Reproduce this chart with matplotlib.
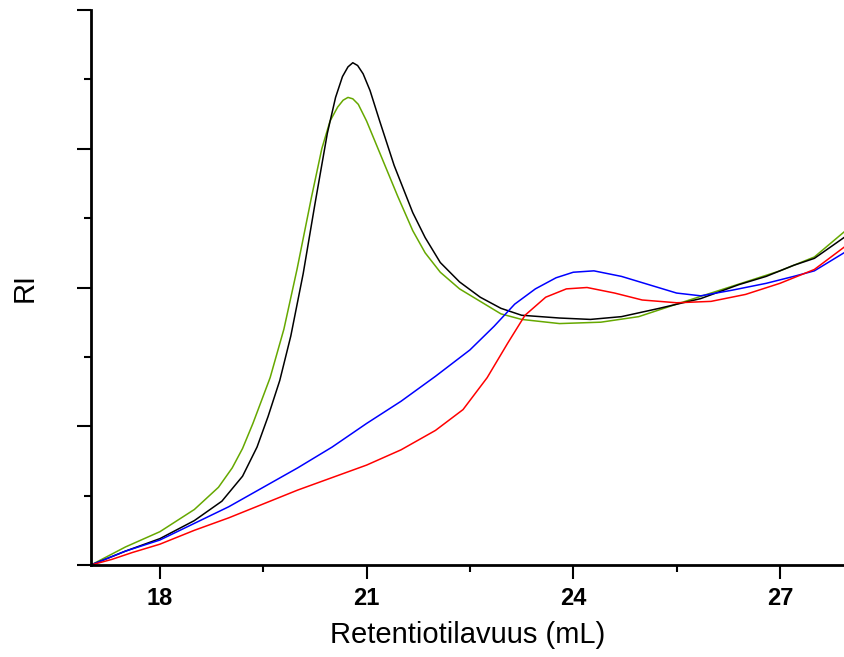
import matplotlib
matplotlib.use("Agg")
import matplotlib.pyplot as plt
from matplotlib.ticker import MultipleLocator, NullFormatter

# values (x = retention volume in mL, y = RI signal, arbitrary units)
x_ticks = [18, 21, 24, 27]
x_tick_labels = ['18', '21', '24', '27']

black_x = [17.0, 17.5, 18.0, 18.5, 18.9, 19.2, 19.41, 19.57, 19.74, 19.9, 20.08, 20.25, 20.43,
           20.55, 20.65, 20.73, 20.8, 20.87, 20.95, 21.05, 21.19, 21.4, 21.67, 21.85, 22.07,
           22.35, 22.65, 22.95, 23.25, 23.8, 24.25, 24.7, 25.25, 25.85, 26.4, 26.8, 27.2,
           27.5, 27.93]
black_y = [0.0, 0.1, 0.19, 0.32, 0.46, 0.64, 0.85, 1.07, 1.33, 1.65, 2.1, 2.6, 3.11,
           3.37, 3.52, 3.59, 3.62, 3.6, 3.54, 3.42, 3.2, 2.88, 2.54, 2.36, 2.18,
           2.04, 1.93, 1.85, 1.8, 1.78, 1.77, 1.79, 1.85, 1.92, 2.02, 2.08, 2.16,
           2.21, 2.36]

green_x = [17.0, 17.5, 18.0, 18.5, 18.85, 19.05, 19.2, 19.35, 19.6, 19.8, 19.99, 20.2, 20.35,
           20.47, 20.58, 20.66, 20.73, 20.8, 20.88, 21.0, 21.2, 21.45, 21.67, 21.85, 22.07,
           22.35, 22.65, 22.95, 23.25, 23.8, 24.4, 24.95, 25.5, 26.0, 26.5, 27.0, 27.5, 27.93]
green_y = [0.0, 0.13, 0.24, 0.4, 0.56, 0.7, 0.84, 1.02, 1.35, 1.7, 2.13, 2.65, 3.0,
           3.2, 3.3, 3.35, 3.37, 3.36, 3.32, 3.2, 2.96, 2.66, 2.41, 2.25, 2.11,
           1.99, 1.9, 1.81, 1.77, 1.74, 1.75, 1.79, 1.88, 1.96, 2.04, 2.12, 2.22, 2.4]

blue_x = [17.0, 17.5, 18.0, 18.5, 19.0, 19.5, 20.0, 20.5, 21.0, 21.5, 22.0, 22.5, 22.85,
          23.15, 23.45, 23.75, 24.0, 24.3, 24.7, 25.1, 25.5, 25.85, 26.3, 26.8, 27.2,
          27.5, 27.93]
blue_y = [0.0, 0.1, 0.18, 0.3, 0.42, 0.56, 0.7, 0.85, 1.02, 1.18, 1.36, 1.55, 1.72,
          1.88, 1.99, 2.07, 2.11, 2.12, 2.08, 2.02, 1.96, 1.94, 1.98, 2.03, 2.08,
          2.12, 2.25]

red_x = [17.0, 17.3, 17.6, 18.0, 18.5, 19.0, 19.5, 20.0, 20.5, 21.0, 21.5, 22.0, 22.4,
         22.75, 23.05, 23.3, 23.6, 23.9, 24.2, 24.6, 25.0, 25.5, 26.0, 26.5, 27.0,
         27.5, 27.93]
red_y = [0.0, 0.04, 0.09, 0.15, 0.25, 0.34, 0.44, 0.54, 0.63, 0.72, 0.83, 0.97, 1.12,
         1.35, 1.6, 1.8, 1.93, 1.99, 2.0, 1.96, 1.91, 1.89, 1.9, 1.95, 2.03,
         2.13, 2.29]

plt.rcParams['font.family'] = ['Liberation Sans', 'DejaVu Sans']

fig = plt.figure(figsize=(8.44, 6.57), dpi=100)
ax = fig.add_axes([91 / 844, 1 - 565 / 657, 1 - 91 / 844, 555 / 657])

ax.plot(green_x, green_y, color='#66a800', lw=1.1)
ax.plot(black_x, black_y, color='black', lw=1.1)
ax.plot(blue_x, blue_y, color='#0000ff', lw=1.1)
ax.plot(red_x, red_y, color='#ff0000', lw=1.1)

ax.set_xlim(17.0, 27.93)
ax.set_ylim(0, 4)

ax.set_xticks(x_ticks, labels=x_tick_labels, fontsize=17, fontweight='bold')
ax.xaxis.set_minor_locator(MultipleLocator(1.5))
ax.yaxis.set_major_locator(MultipleLocator(1))
ax.yaxis.set_minor_locator(MultipleLocator(0.5))
ax.yaxis.set_major_formatter(NullFormatter())

for side in ['top', 'right']:
    ax.spines[side].set_visible(False)
for side in ['left', 'bottom']:
    ax.spines[side].set_linewidth(2)

ax.tick_params(which='major', length=10, width=1.5, pad=6)
ax.tick_params(which='minor', length=5, width=1.5)

ax.set_xlabel('Retentiotilavuus (mL)', fontsize=21, labelpad=8)
ax.set_ylabel('RI', fontsize=21, labelpad=22)

fig.savefig('out.png', dpi=100)
